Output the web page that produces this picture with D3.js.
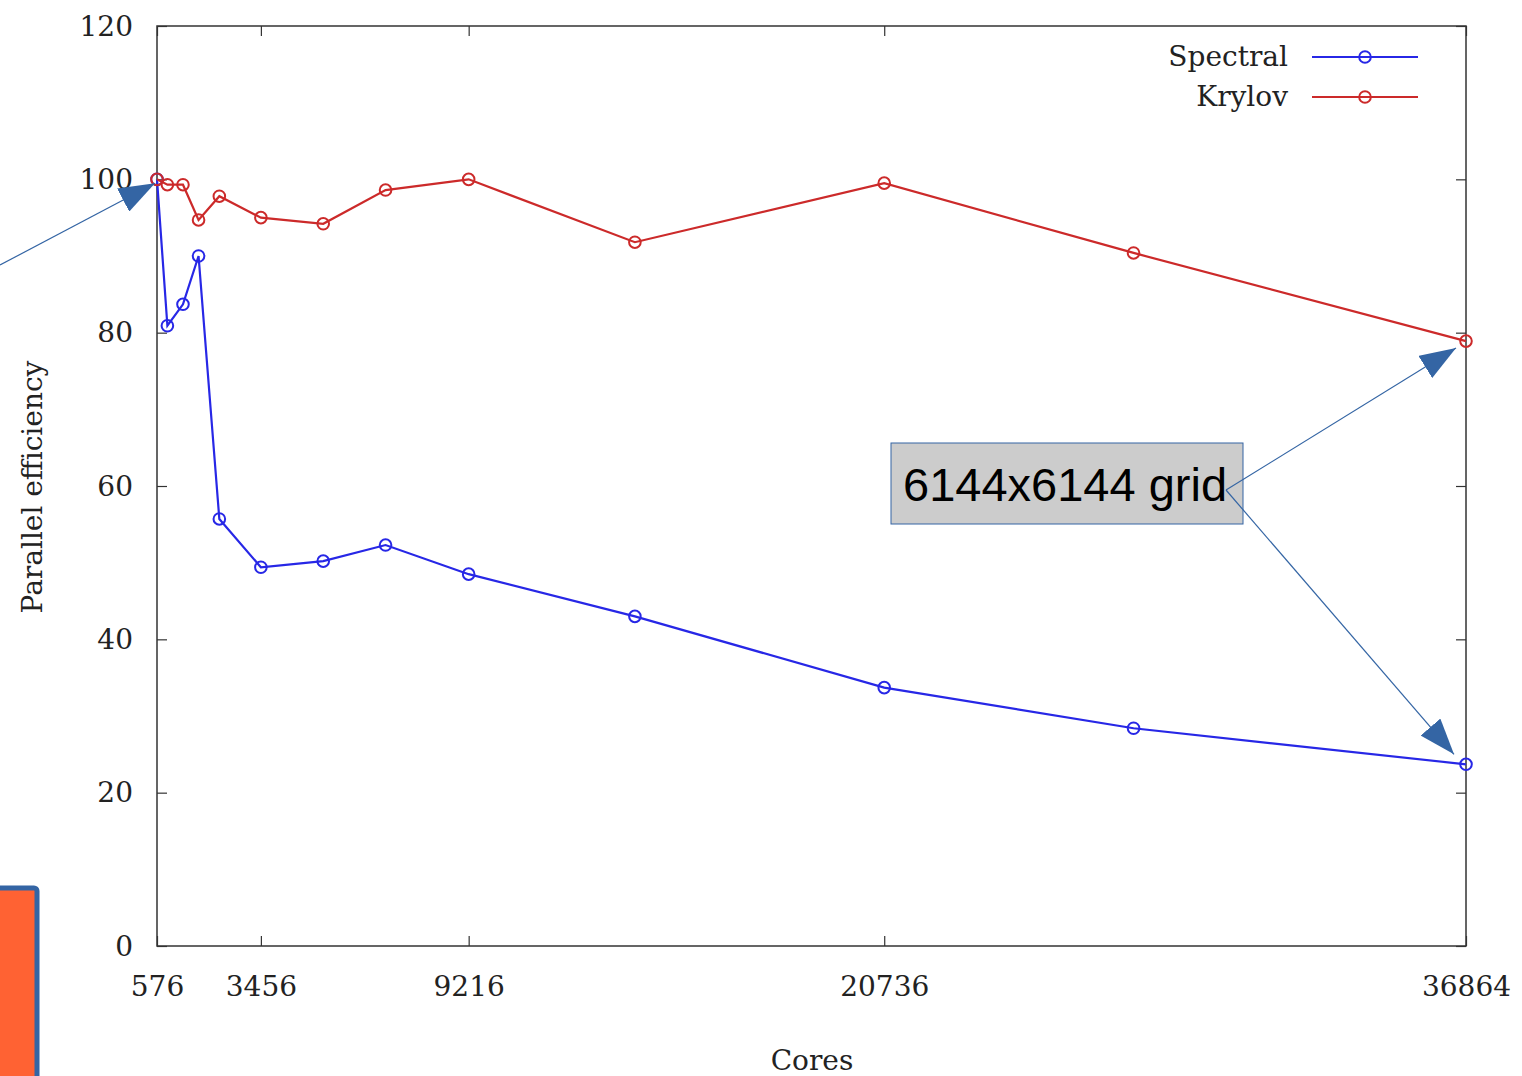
<!DOCTYPE html>
<html><head><meta charset="utf-8">
<script src="https://cdn.jsdelivr.net/npm/d3@7"></script>
<style>
html,body{margin:0;padding:0;background:#fff;}
svg{display:block;}
</style></head>
<body>
<script>
const cores = [576, 864, 1296, 1728, 2304, 3456, 5184, 6912, 9216, 13824, 20736, 27648, 36864];
const spectral = [100, 80.9, 83.7, 90.0, 55.7, 49.4, 50.2, 52.3, 48.5, 43.0, 33.7, 28.4, 23.7];
const krylov = [100, 99.3, 99.3, 94.7, 97.8, 95.0, 94.2, 98.6, 100.0, 91.8, 99.5, 90.4, 78.9];
const xTicks = [576, 3456, 9216, 20736, 36864];
const yTicks = [0, 20, 40, 60, 80, 100, 120];
const seriesNames = ["Spectral", "Krylov"];
const seriesColors = ["#2727e6", "#cc2a2a"];
const annotationText = "6144x6144 grid";

const W = 1522, H = 1076;
const svg = d3.select("body").append("svg").attr("width", W).attr("height", H);
const L = 157, R = 1466, T = 26, B = 946;
const x = d3.scaleLinear().domain([576, 36864]).range([L, R]);
const y = d3.scaleLinear().domain([0, 120]).range([B, T]);
const serif = "'DejaVu Serif', 'Liberation Serif', serif";
const axisColor = "#333";
const fs = 28;

// frame
svg.append("rect").attr("x", L).attr("y", T).attr("width", R - L).attr("height", B - T)
  .attr("fill", "none").attr("stroke", axisColor).attr("stroke-width", 1.5);

// axes
const gx = svg.append("g").attr("transform", `translate(0,${B})`)
  .call(d3.axisBottom(x).tickValues(xTicks).tickSize(-10).tickPadding(30).tickFormat(d3.format("d")));
const gxTop = svg.append("g").attr("transform", `translate(0,${T})`)
  .call(d3.axisTop(x).tickValues(xTicks).tickSize(-10).tickFormat(""));
const gy = svg.append("g").attr("transform", `translate(${L},0)`)
  .call(d3.axisLeft(y).tickValues(yTicks).tickSize(-10).tickPadding(24).tickFormat(d3.format("d")));
const gyR = svg.append("g").attr("transform", `translate(${R},0)`)
  .call(d3.axisRight(y).tickValues(yTicks).tickSize(-10).tickFormat(""));
[gx, gxTop, gy, gyR].forEach(g => {
  g.select(".domain").remove();
  g.selectAll(".tick line").attr("stroke", axisColor).attr("stroke-width", 1.2);
  g.selectAll("text").attr("font-family", serif).attr("font-size", fs).attr("fill", "#222");
});
gy.selectAll("text").attr("dy", "0.33em");
gx.selectAll("text").attr("dy", "0.71em");

// axis titles
svg.append("text").attr("x", 812).attr("y", 1070).attr("text-anchor", "middle")
  .attr("font-family", serif).attr("font-size", fs).attr("fill", "#222").text("Cores");
svg.append("text").attr("transform", "translate(42,487) rotate(-90)").attr("text-anchor", "middle")
  .attr("font-family", serif).attr("font-size", fs).attr("fill", "#222").text("Parallel efficiency");

// series
const data = [spectral, krylov];
const line = d3.line().x((d, i) => x(cores[i])).y(d => y(d));
data.forEach((vals, s) => {
  const g = svg.append("g");
  g.append("path").datum(vals).attr("d", line).attr("fill", "none")
    .attr("stroke", seriesColors[s]).attr("stroke-width", 2.2);
  g.selectAll("circle").data(vals).join("circle")
    .attr("cx", (d, i) => x(cores[i])).attr("cy", d => y(d)).attr("r", 5.8)
    .attr("fill", "none").attr("stroke", seriesColors[s]).attr("stroke-width", 2);
});

// legend
seriesNames.forEach((n, s) => {
  const ly = 57 + s * 40;
  svg.append("text").attr("x", 1288).attr("y", ly).attr("dy", "0.33em").attr("text-anchor", "end")
    .attr("font-family", serif).attr("font-size", fs).attr("fill", "#222").text(n);
  svg.append("line").attr("x1", 1312).attr("x2", 1418).attr("y1", ly).attr("y2", ly)
    .attr("stroke", seriesColors[s]).attr("stroke-width", 2.2);
  svg.append("circle").attr("cx", 1365).attr("cy", ly).attr("r", 5.8)
    .attr("fill", "none").attr("stroke", seriesColors[s]).attr("stroke-width", 2);
});

// annotations
const arrowColor = "#3465a4";
const defs = svg.append("defs");
defs.append("marker").attr("id", "ah").attr("viewBox", "0 0 36 26").attr("refX", 36).attr("refY", 13)
  .attr("markerWidth", 36).attr("markerHeight", 26).attr("markerUnits", "userSpaceOnUse").attr("orient", "auto")
  .append("path").attr("d", "M0,0 L36,13 L0,26 Z").attr("fill", arrowColor);

function arrow(x1, y1, x2, y2) {
  svg.append("line").attr("x1", x1).attr("y1", y1).attr("x2", x2).attr("y2", y2)
    .attr("stroke", arrowColor).attr("stroke-width", 1.2).attr("marker-end", "url(#ah)");
}
// box
svg.append("rect").attr("x", 891).attr("y", 443).attr("width", 352).attr("height", 81)
  .attr("fill", "#cccccc").attr("stroke", arrowColor).attr("stroke-width", 1);
svg.append("text").attr("x", 903).attr("y", 501).attr("font-family", "'Liberation Sans', Arial, sans-serif")
  .attr("font-size", 47).attr("fill", "#000").text(annotationText);
arrow(1226, 490, x(36864) - 10, y(krylov[12]) + 7);
arrow(1226, 490, x(36864) - 12, y(spectral[12]) - 10);
arrow(0, 265, x(576) - 2, y(100) + 4);

// orange box
svg.append("rect").attr("x", -20).attr("y", 888).attr("width", 57).attr("height", 220).attr("rx", 3)
  .attr("fill", "#ff6233").attr("stroke", arrowColor).attr("stroke-width", 5);
</script>
</body></html>
